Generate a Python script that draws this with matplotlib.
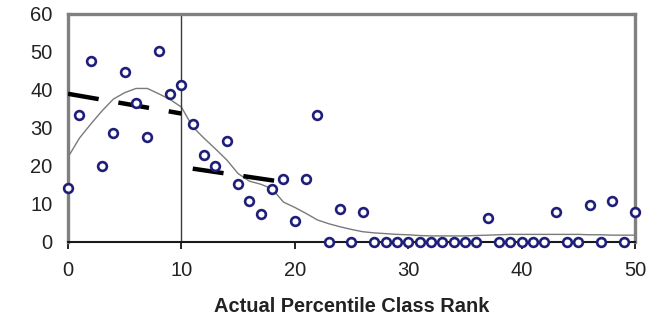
import matplotlib
matplotlib.use("Agg")
import matplotlib.pyplot as plt
import numpy as np

plt.rcParams['font.family'] = ['Liberation Sans', 'DejaVu Sans']

# Observed counts by percentile class rank
rank = list(range(0, 51))
observed = [14.2, 33.4, 47.6, 20.0, 28.7, 44.7, 36.6, 27.6, 50.3, 38.9,
            41.3, 31.0, 22.9, 20.0, 26.6, 15.3, 10.8, 7.4, 13.9, 16.6,
            5.5, 16.6, 33.4, 0.0, 8.7, 0.0, 7.9, 0.0, 0.0, 0.0,
            0.0, 0.0, 0.0, 0.0, 0.0, 0.0, 0.0, 6.3, 0.0, 0.0,
            0.0, 0.0, 0.0, 7.9, 0.0, 0.0, 9.7, 0.0, 10.8, 0.0,
            7.9]

# Smoothed trend
smoothed = [22.3, 27.3, 31.0, 34.5, 37.6, 39.3, 40.4, 40.4, 39.0, 37.5,
            35.5, 30.3, 27.3, 24.5, 21.6, 18.0, 16.0, 15.2, 14.0, 10.5,
            9.1, 7.5, 5.8, 4.8, 4.0, 3.3, 2.7, 2.4, 2.2, 2.0,
            1.9, 1.7, 1.6, 1.6, 1.6, 1.6, 1.7, 1.8, 1.9, 2.0,
            2.0, 2.0, 2.0, 2.0, 2.0, 2.0, 1.9, 1.9, 1.8, 1.8,
            1.8]

# Fitted segments on either side of the cutoff
fit1_x = [0, 10]
fit1_y = [39.0, 33.8]
fit2_x = [11, 18.5]
fit2_y = [19.3, 16.0]
cutoff = 10

x_ticks = [0, 10, 20, 30, 40, 50]
y_ticks = [0, 10, 20, 30, 40, 50, 60]

fig = plt.figure(figsize=(6.57, 3.25), dpi=100)
ax = fig.add_axes([0.1035, 0.2554, 0.863, 0.7016])

ax.plot(rank, smoothed, color='#7a7a7a', lw=1.0, zorder=2)
ax.plot(fit1_x, fit1_y, color='black', lw=3.2, dashes=(7, 4.5),
        solid_capstyle='butt', dash_capstyle='butt', zorder=3)
ax.plot(fit2_x, fit2_y, color='black', lw=3.2, dashes=(7, 4.5),
        solid_capstyle='butt', dash_capstyle='butt', zorder=3)
ax.axvline(cutoff, color='#3a3a3a', lw=1.0, zorder=2)
ax.plot(rank, observed, linestyle='none', marker='o', ms=6.3,
        mfc='white', mec='#1f1f7a', mew=1.9, clip_on=False, zorder=5)

ax.set_xlim(0, 50)
ax.set_ylim(0, 60)
ax.set_xticks(x_ticks)
ax.set_yticks(y_ticks)
ax.tick_params(axis='x', direction='out', length=5, width=1.2, colors='black',
               labelsize=14.5, labelcolor='#222222', pad=9)
ax.tick_params(axis='y', length=0, labelsize=14.5, labelcolor='#222222', pad=11)

for side in ['top', 'right', 'left']:
    ax.spines[side].set_color('#808080')
    ax.spines[side].set_linewidth(2.4)
ax.spines['bottom'].set_color('#1a1a1a')
ax.spines['bottom'].set_linewidth(1.5)

ax.set_xlabel('Actual Percentile Class Rank', fontsize=14.4, fontweight='bold',
              color='#222222', labelpad=12)

fig.savefig('out.png', dpi=100, facecolor='white')
